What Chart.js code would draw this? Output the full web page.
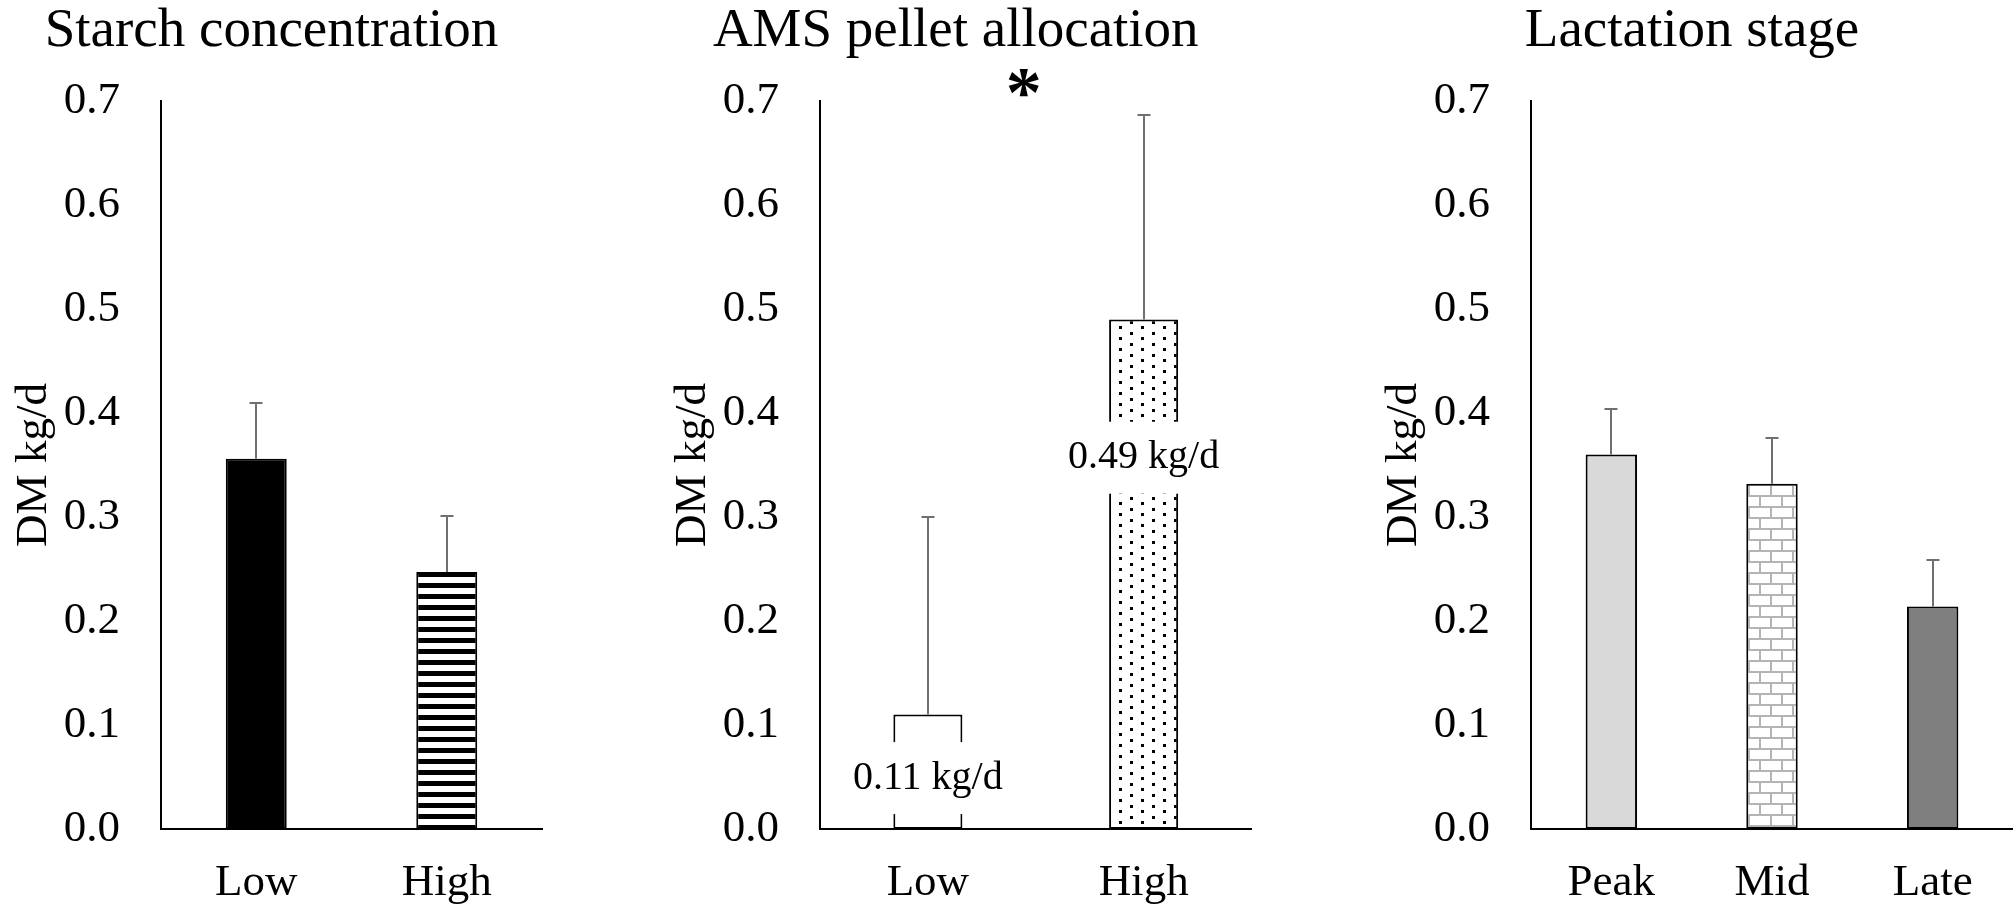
<!DOCTYPE html>
<html>
<head>
<meta charset="utf-8">
<title>DM intake by starch concentration, AMS pellet allocation and lactation stage</title>
<script src="https://cdn.jsdelivr.net/npm/chart.js@4.4.1/dist/chart.umd.min.js"></script>
<style>
  html, body { margin: 0; padding: 0; background: #fff; }
  #wrap { position: relative; width: 2013px; height: 904px; overflow: hidden; background: #fff; }
  #wrap canvas { position: absolute; top: 0; }
</style>
</head>
<body>
<div id="wrap">
  <canvas id="starch" width="560" height="904" style="left:0px"></canvas>
  <canvas id="pellet" width="680" height="904" style="left:600px"></canvas>
  <canvas id="stage" width="683" height="904" style="left:1330px"></canvas>
</div>
<script>
// ---- data ----
const starchCategories = ['Low', 'High'];
const starchMeans = [0.356, 0.247];
const starchErrors = [0.054, 0.054];

const pelletCategories = ['Low', 'High'];
const pelletMeans = [0.11, 0.49];
const pelletErrors = [0.19, 0.197];

const stageCategories = ['Peak', 'Mid', 'Late'];
const stageMeans = [0.36, 0.332, 0.214];
const stageErrors = [0.044, 0.044, 0.045];

const yTickLabels = ['0.0', '0.1', '0.2', '0.3', '0.4', '0.5', '0.6', '0.7'];
const yAxisTitle = 'DM kg/d';

// ---- styling helpers ----
const SERIF = '"Liberation Serif", "Times New Roman", serif';
Chart.defaults.color = '#000';
Chart.defaults.font.family = SERIF;

function makePattern(w, h, paint) {
  const c = document.createElement('canvas');
  c.width = w; c.height = h;
  const g = c.getContext('2d');
  g.fillStyle = '#fff';
  g.fillRect(0, 0, w, h);
  paint(g);
  return g.createPattern(c, 'repeat');
}

const stripeFill = makePattern(11, 11, g => {
  g.fillStyle = '#000';
  g.fillRect(0, 0, 11, 5);
});
const dotFill = makePattern(22, 11, g => {
  g.fillStyle = '#000';
  g.fillRect(2, 2, 3, 3);
  g.fillRect(13, 7, 3, 3);
});
const brickFill = makePattern(22, 22, g => {
  g.fillStyle = '#b4b4b4';
  g.fillRect(0, 0, 22, 2);
  g.fillRect(0, 11, 22, 2);
  g.fillRect(0, 0, 2, 11);
  g.fillRect(11, 11, 2, 11);
});

// error bars, value labels, titles and significance mark
const panelDecor = {
  id: 'panelDecor',
  afterDatasetsDraw(chart, args, opts) {
    const ctx = chart.ctx, xs = chart.scales.x, ys = chart.scales.y;
    ctx.save();
    ctx.strokeStyle = '#6f6f6f';
    ctx.lineWidth = 2;
    opts.means.forEach((m, i) => {
      const x = Math.round(xs.getPixelForValue(i));
      const y0 = ys.getPixelForValue(m);
      const y1 = Math.round(ys.getPixelForValue(m + opts.errors[i]));
      ctx.beginPath();
      ctx.moveTo(x, y0);
      ctx.lineTo(x, y1);
      ctx.moveTo(x - 6.5, y1);
      ctx.lineTo(x + 6.5, y1);
      ctx.stroke();
    });
    if (opts.valueLabels) {
      ctx.font = '40px ' + SERIF;
      ctx.textAlign = 'center';
      ctx.textBaseline = 'middle';
      opts.means.forEach((m, i) => {
        const text = m.toFixed(2) + ' kg/d';
        const x = xs.getPixelForValue(i);
        const y = ys.getPixelForValue(opts.valueLabels[i]);
        const w = ctx.measureText(text).width;
        ctx.fillStyle = '#fff';
        ctx.fillRect(x - w / 2 - 4, y - 36, w + 8, 72);
        ctx.fillStyle = '#000';
        ctx.fillText(text, x, y);
      });
    }
    ctx.restore();
  },
  afterDraw(chart, args, opts) {
    const ctx = chart.ctx, area = chart.chartArea, xs = chart.scales.x;
    ctx.save();
    ctx.fillStyle = '#000';
    ctx.textAlign = 'center';
    ctx.textBaseline = 'alphabetic';
    ctx.font = '55px ' + SERIF;
    ctx.fillText(opts.title, (area.left + area.right) / 2 - 80, 46);

    ctx.font = '45px ' + SERIF;
    ctx.save();
    ctx.translate(area.left - 115, (area.top + area.bottom) / 2);
    ctx.rotate(-Math.PI / 2);
    ctx.fillText(yAxisTitle, 0, 0);
    ctx.restore();

    if (opts.star) {
      const xm = (xs.getPixelForValue(0) + xs.getPixelForValue(1)) / 2 - 12;
      ctx.font = 'bold 72px ' + SERIF;
      ctx.textBaseline = 'middle';
      ctx.fillText('*', xm, 97);
    }
    ctx.restore();
  }
};

function panelChart(id, categories, means, errors, fills, axisLeft, padRight, decor) {
  const tickFont = { family: SERIF, size: 45 };
  return new Chart(document.getElementById(id), {
    type: 'bar',
    data: {
      labels: categories,
      datasets: [{
        data: means,
        backgroundColor: fills,
        borderColor: '#000',
        borderWidth: 2,
        borderSkipped: false,
        barPercentage: 0.32,
        categoryPercentage: 1
      }]
    },
    options: {
      responsive: false,
      animation: false,
      devicePixelRatio: 1,
      layout: { padding: { left: 0, right: padRight, top: 101, bottom: 0 } },
      plugins: {
        legend: { display: false },
        tooltip: { enabled: false },
        panelDecor: Object.assign({ means, errors }, decor)
      },
      scales: {
        x: {
          grid: { display: false, drawTicks: false },
          border: { display: true, color: '#000', width: 2 },
          ticks: { font: tickFont, color: '#000', padding: 27 },
          afterFit(scale) { scale.height = 75; }
        },
        y: {
          min: 0,
          max: 0.7,
          grid: { display: false, drawTicks: false },
          border: { display: true, color: '#000', width: 2 },
          ticks: {
            stepSize: 0.1,
            font: tickFont,
            color: '#000',
            padding: 41,
            callback: (v, i) => yTickLabels[i]
          },
          afterFit(scale) { scale.width = axisLeft; }
        }
      }
    },
    plugins: [panelDecor]
  });
}

panelChart('starch', starchCategories, starchMeans, starchErrors,
  ['#000', stripeFill], 161, 18,
  { title: 'Starch concentration' });

panelChart('pellet', pelletCategories, pelletMeans, pelletErrors,
  ['#fff', dotFill], 220, 28.5,
  { title: 'AMS pellet allocation', star: true, valueLabels: [0.049, 0.357] });

panelChart('stage', stageCategories, stageMeans, stageErrors,
  ['#d9d9d9', brickFill, '#7f7f7f'], 201, 0,
  { title: 'Lactation stage' });
</script>
</body>
</html>
